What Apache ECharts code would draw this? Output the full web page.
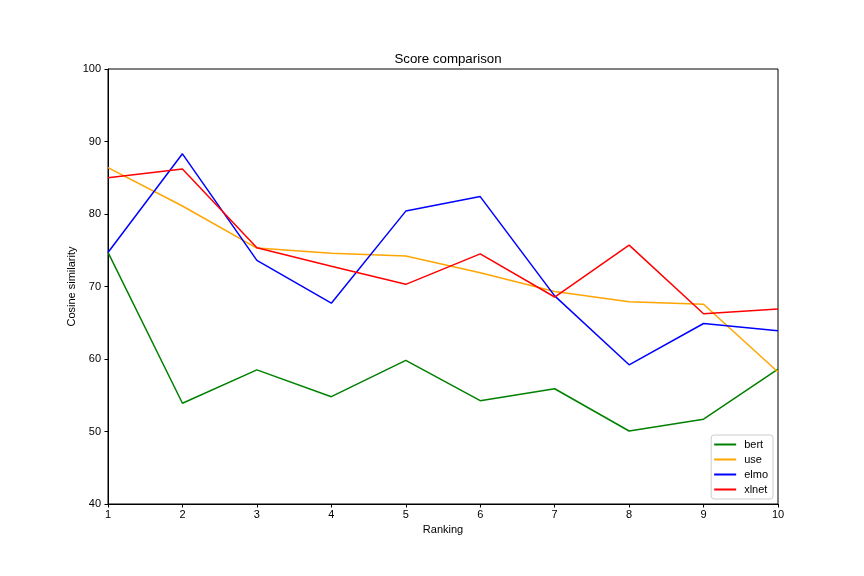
<!DOCTYPE html>
<html>
<head>
<meta charset="utf-8">
<script src="https://cdn.jsdelivr.net/npm/echarts@6/dist/echarts.min.js"></script>
<style>html,body{margin:0;padding:0;background:#fff}#c{width:864px;height:576px}</style>
</head>
<body>
<div id="c"></div>
<script>
const rankings = [1,2,3,4,5,6,7,8,9,10];
const bert  = [74.7, 53.9, 58.5, 54.8, 59.8, 54.25, 55.9, 50.07, 51.7, 58.6];
const use   = [86.4, 81.1, 75.3, 74.6, 74.2, 71.9, 69.3, 67.9, 67.55, 58.2];
const elmo  = [74.7, 88.3, 73.6, 67.7, 80.4, 82.4, 68.7, 59.2, 64.9, 63.9];
const xlnet = [85.0, 86.2, 75.35, 72.8, 70.3, 74.5, 68.55, 75.7, 66.25, 66.9];
const seriesNames = ['bert','use','elmo','xlnet'];
const seriesColors = ['green','orange','blue','red'];
const seriesData = [bert, use, elmo, xlnet];

const font = 'Liberation Sans';
const chart = echarts.init(document.getElementById('c'), null, {renderer:'canvas'});
chart.setOption({
  animation:false,
  backgroundColor:'#fff',
  title:{text:'Score comparison', left:443, textAlign:'center', top:48, textStyle:{fontFamily:font,fontSize:13.3,fontWeight:'normal',color:'#000'}},
  grid:{left:108,right:86,top:69,bottom:72,show:true,borderColor:'#000',borderWidth:1,backgroundColor:'transparent'},
  legend:{
    orient:'vertical', right:91, bottom:77,
    data:seriesNames, icon:'rect', itemWidth:22, itemHeight:2, itemGap:4,
    borderColor:'#ccc', borderWidth:1, borderRadius:3, padding:[4,5,4,3],
    backgroundColor:'rgba(255,255,255,0.8)',
    textStyle:{fontFamily:font,fontSize:11,lineHeight:11,color:'#000',padding:[0,0,0,3]}
  },
  xAxis:{type:'value',min:1,max:10,interval:1,name:'Ranking',nameLocation:'middle',nameGap:20,
    nameTextStyle:{fontFamily:font,fontSize:11,color:'#000'},
    axisLine:{show:true,onZero:false,lineStyle:{color:'#000',width:1}},
    axisTick:{show:true,length:3.5,lineStyle:{color:'#000'}},
    axisLabel:{fontFamily:font,fontSize:11,color:'#000',margin:5},
    splitLine:{show:false}},
  yAxis:{type:'value',min:40,max:100,interval:10,name:'Cosine similarity',nameLocation:'middle',nameGap:31,nameMoveOverlap:false,
    nameTextStyle:{fontFamily:font,fontSize:11,color:'#000'},
    axisLine:{show:true,lineStyle:{color:'#000',width:1}},
    axisTick:{show:true,length:3.5,lineStyle:{color:'#000'}},
    axisLabel:{fontFamily:font,fontSize:11,color:'#000',margin:7},
    splitLine:{show:false}},
  series: seriesNames.map((n,i)=>({
    name:n, type:'line', showSymbol:false, symbol:'none',
    data: rankings.map((r,j)=>[r, seriesData[i][j]]),
    lineStyle:{color:seriesColors[i],width:1.5}, itemStyle:{color:seriesColors[i]}
  }))
});
</script>
</body>
</html>
